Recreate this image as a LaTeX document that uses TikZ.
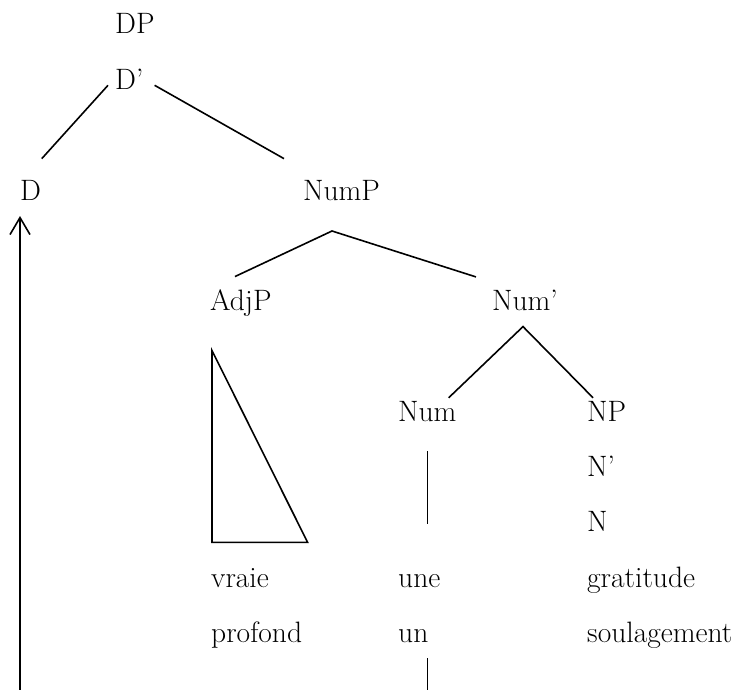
\documentclass[tikz,border=0pt]{standalone}
\usetikzlibrary{positioning,arrows.meta}

\begin{document}
\begin{tikzpicture}[
  x=1pt, y=-1pt,
  lbl/.style={inner sep=0pt, anchor=base west, font=\fontsize{29.5pt}{36pt}\selectfont},
  branch/.style={line width=1.6pt},
  move/.style={line width=1.6pt, -{Straight Barb[length=17pt,width=20pt]}}
]
\useasboundingbox (0,0) rectangle (752,690);

% tree labels
\node[lbl] (DP) at (115,34) {DP};
\node[lbl] (Dbar) at (115,89.3) {D’};
\node[lbl] (D) at (20,200) {D};
\node[lbl] (NumP) at (303,200) {NumP};
\node[lbl] (AdjP) at (210,310.6) {AdjP};
\node[lbl] (Numbar) at (492,310.6) {Num’};
\node[lbl] (Num) at (398,421.1) {Num};
\node[lbl] (NP) at (587,421.1) {NP};
\node[lbl] (Nbar) at (587,476.4) {N’};
\node[lbl] (N) at (587,531.7) {N};

% words
\node[lbl] (vraie) at (211,587) {vraie};
\node[lbl] (une) at (398,587) {une};
\node[lbl] (gratitude) at (587,587) {gratitude};
\node[lbl] (profond) at (211,642.3) {profond};
\node[lbl] (un) at (398,642.3) {un};
\node[lbl] (soulagement) at (587,642.3) {soulagement};

% branches
\draw[branch] ([shift={(-7,-4)}]Dbar.base west) -- ([shift={(0.5,-21)}]D.north east);
\draw[branch] ([shift={(11,-4)}]Dbar.base east) -- ([shift={(-19,-21)}]NumP.north west);
\draw[branch] ([shift={(25,-13)}]AdjP.north west) -- ([shift={(29,31)}]NumP.base west)
  -- ([shift={(-16,-13)}]Numbar.north west);
\draw[branch] ([shift={(-8,-3)}]Num.north east) -- ([shift={(31,16)}]Numbar.base west)
  -- ([shift={(6,-3)}]NP.north west);
\draw[branch] ([yshift=-30pt]Num.base) -- ([yshift=-103pt]Num.base);

% AdjP roof
\draw[branch] ([shift={(2,40)}]AdjP.base west) -- ++(0,191.7) -- ++(95.6,0) -- cycle;

% movement
\draw[branch] ([yshift=-16pt]Num.base |- un.base) -- ([yshift=-50pt]Num.base |- un.base);
\draw[move] ([yshift=-492pt]D.base west) -- ([yshift=-16pt]D.base west);

\end{tikzpicture}
\end{document}
